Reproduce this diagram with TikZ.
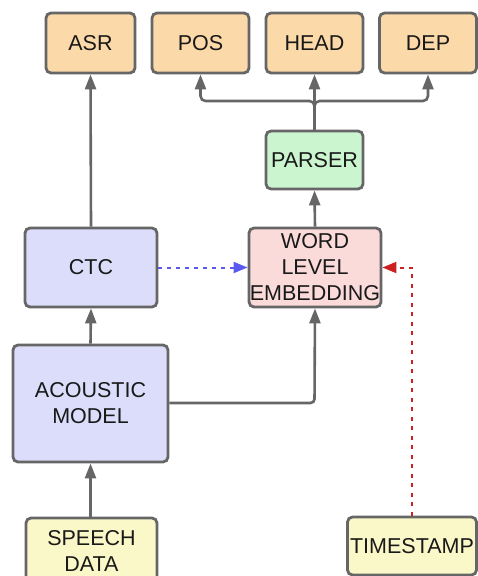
\documentclass[tikz,border=0pt]{standalone}
\usepackage{fontspec}
\setmainfont{Liberation Sans}
\usetikzlibrary{arrows.meta}
\definecolor{edge}{HTML}{666666}
\definecolor{peach}{HTML}{FCD9A8}
\definecolor{mint}{HTML}{CBF5CF}
\definecolor{lav}{HTML}{DBDDFA}
\definecolor{rose}{HTML}{FBDADA}
\definecolor{lemon}{HTML}{FAF8C8}
\definecolor{dblue}{HTML}{5A5AEE}
\definecolor{dred}{HTML}{CC2020}
\tikzset{
  box/.style={draw=edge, line width=2.8pt, rounded corners=5pt, inner sep=0pt, align=center,
    font=\fontsize{21.5}{26}\selectfont, text=black!90},
  conn/.style={draw=edge, line width=2.6pt, -{Triangle[length=15pt,width=11pt]}},
}
\begin{document}
\begin{tikzpicture}[x=1pt,y=-1pt]
\useasboundingbox (0,0) rectangle (477,576);
\node[box, fill=peach, minimum width=89pt, minimum height=60pt] (asr) at (90.5,43) {ASR};
\node[box, fill=peach, minimum width=97pt, minimum height=60pt] (pos) at (200.5,43) {POS};
\node[box, fill=peach, minimum width=97pt, minimum height=60pt] (head) at (314.5,43) {HEAD};
\node[box, fill=peach, minimum width=97pt, minimum height=60pt] (dep) at (428,43) {DEP};
\node[box, fill=mint, minimum width=97pt, minimum height=58pt] (parser) at (314.5,160) {PARSER};
\node[box, fill=lav, minimum width=132pt, minimum height=79pt] (ctc) at (91,267.5) {CTC};
\node[box, fill=rose, minimum width=132pt, minimum height=79pt] (emb) at (315,267.5) {WORD\\LEVEL\\EMBEDDING};
\node[box, fill=lav, minimum width=155pt, minimum height=117pt] (ac) at (90.5,403.5) {ACOUSTIC\\MODEL};
\node[box, fill=lemon, minimum width=131pt, minimum height=66pt] (speech) at (91.5,551) {SPEECH\\DATA};
\node[box, fill=lemon, minimum width=129pt, minimum height=58pt] (ts) at (412,546) {TIMESTAMP};
\coordinate (br) at (314.5,101);
\coordinate (acturn) at (314.5,403);
\coordinate (tsturn) at (412,267.5);
\draw[conn] (speech.north -| ac.north) -- (ac.south);
\draw[conn] (ac.north) -- (ctc.south);
\draw[conn] (ctc.north) -- (asr.south);
\draw[conn, rounded corners=4pt] (ac.east |- acturn) -- (acturn) -- (emb.south);
\draw[conn] (emb.north) -- (parser.south);
\draw[conn] (parser.north) -- (head.south);
\draw[conn, rounded corners=5pt] (parser.north) -- (br) -| (pos.south);
\draw[conn, rounded corners=5pt] (parser.north) -- (br) -| (dep.south);
\draw[draw=dblue, line width=2pt, dash pattern=on 4pt off 5pt, -{Triangle[length=14pt,width=11pt]}] (ctc.east) -- (emb.west);
\draw[draw=dred, line width=2pt, dash pattern=on 4pt off 5.5pt, -{Triangle[length=14pt,width=11pt]}] (ts.north) -- (tsturn) -- (emb.east);
\end{tikzpicture}
\end{document}
